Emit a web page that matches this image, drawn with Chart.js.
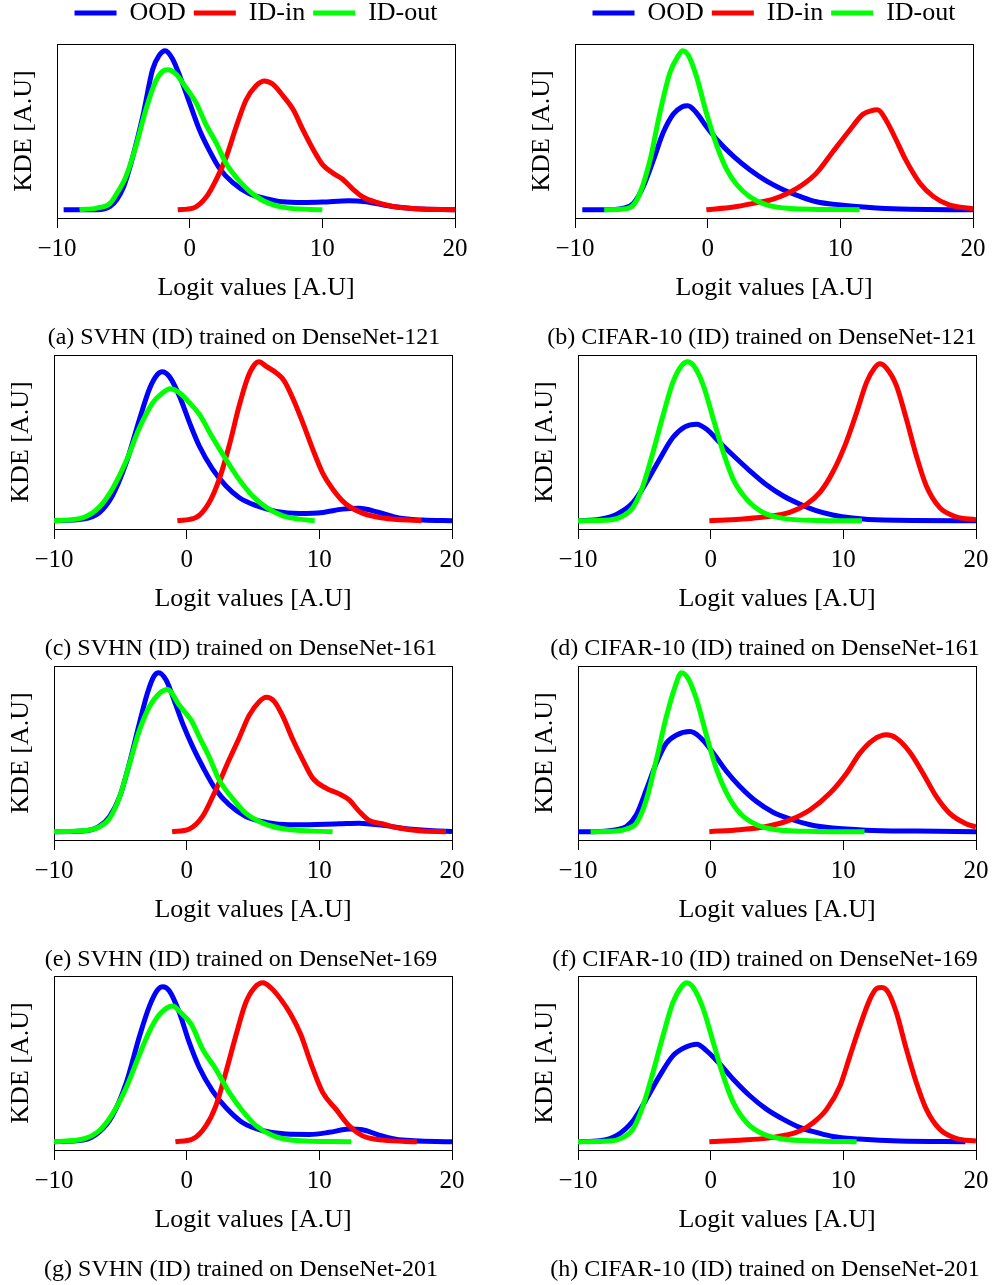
<!DOCTYPE html>
<html>
<head>
<meta charset="utf-8">
<title>Logit KDE</title>
<script src="https://cdn.jsdelivr.net/npm/chart.js@4.4.1/dist/chart.umd.min.js"></script>
<style>
  html, body { margin: 0; padding: 0; background: #fff; overflow: hidden; }
  body { position: relative; width: 994px; height: 1285px; }
  canvas { position: absolute; }
</style>
</head>
<body>
<script>
// legend / axes
const seriesNames = ["OOD", "ID-in", "ID-out"];
const xTicks = [-10, 0, 10, 20];
const captions = [
  "(a) SVHN (ID) trained on DenseNet-121",
  "(b) CIFAR-10 (ID) trained on DenseNet-121",
  "(c) SVHN (ID) trained on DenseNet-161",
  "(d) CIFAR-10 (ID) trained on DenseNet-161",
  "(e) SVHN (ID) trained on DenseNet-169",
  "(f) CIFAR-10 (ID) trained on DenseNet-169",
  "(g) SVHN (ID) trained on DenseNet-201",
  "(h) CIFAR-10 (ID) trained on DenseNet-201",
];

// (a) SVHN / DenseNet-121
const aOodX = [-9.5, -7, -6, -5, -4.3, -3.5, -2.8, -2.3, -1.85, -1.3, -0.65, 0, 0.75, 1.5, 2.25, 3.25, 4.5, 5.75, 7, 8.5, 10, 12, 13.3, 14.6, 15.8, 17, 20];
const aOodY = [0, 0, 0.02, 0.14, 0.33, 0.6, 0.88, 0.97, 1.0, 0.95, 0.82, 0.67, 0.5, 0.37, 0.26, 0.17, 0.1, 0.07, 0.05, 0.045, 0.048, 0.057, 0.05, 0.03, 0.015, 0.006, 0];
const aInX = [-0.9, 0.25, 1.25, 2.0, 2.75, 3.5, 4.25, 5.0, 5.65, 6.25, 7.0, 7.8, 8.55, 9.3, 10.05, 10.8, 11.55, 12.3, 13.05, 14.1, 15.35, 17.1, 20];
const aInY = [0, 0.01, 0.08, 0.19, 0.33, 0.52, 0.69, 0.78, 0.81, 0.79, 0.72, 0.63, 0.5, 0.38, 0.28, 0.23, 0.19, 0.13, 0.08, 0.046, 0.02, 0.006, 0];
const aOutX = [-8.3, -7, -6, -5.55, -4.8, -4.05, -3.3, -2.55, -2.05, -1.65, -1.0, -0.3, 0.5, 1.2, 2.0, 2.75, 3.75, 5.0, 6.3, 7.5, 10];
const aOutY = [0, 0.01, 0.04, 0.094, 0.21, 0.4, 0.63, 0.81, 0.87, 0.88, 0.85, 0.77, 0.67, 0.54, 0.42, 0.29, 0.18, 0.084, 0.03, 0.01, 0];

// (b) CIFAR-10 / DenseNet-121
const bOodX = [-9.45, -7.85, -6.35, -5.6, -4.85, -4.1, -3.35, -2.6, -1.95, -1.5, -0.85, -0.1, 0.7, 1.95, 3.2, 4.45, 5.7, 6.95, 8.2, 10, 12, 14.5, 20];
const bOodY = [0, 0, 0.01, 0.04, 0.146, 0.31, 0.485, 0.6, 0.646, 0.653, 0.61, 0.523, 0.44, 0.335, 0.25, 0.18, 0.126, 0.084, 0.05, 0.03, 0.015, 0.004, 0];
const bInX = [-0.1, 1.95, 3.45, 4.95, 6.2, 7.2, 8.2, 9.45, 10.7, 11.7, 12.3, 12.8, 13.5, 14.2, 14.95, 16, 17, 18.2, 20];
const bInY = [0, 0.017, 0.04, 0.067, 0.11, 0.16, 0.23, 0.366, 0.5, 0.6, 0.622, 0.628, 0.555, 0.44, 0.31, 0.167, 0.084, 0.03, 0.006];
const bOutX = [-7.8, -6.35, -5.6, -5.1, -4.35, -3.6, -2.85, -2.2, -1.88, -1.45, -0.85, -0.1, 0.7, 1.45, 2.2, 3.2, 4.45, 6.2, 11.45];
const bOutY = [0, 0.004, 0.03, 0.105, 0.31, 0.61, 0.86, 0.97, 1.0, 0.97, 0.84, 0.61, 0.4, 0.25, 0.157, 0.08, 0.03, 0.008, 0];

// (c) SVHN / DenseNet-161
const cOodX = [-10, -7.8, -6.6, -5.6, -4.55, -3.55, -2.8, -2.2, -1.85, -1.3, -0.55, 0.2, 0.95, 1.95, 2.95, 3.95, 5.25, 6.75, 8.5, 10.25, 11.75, 13, 14.5, 16, 17.8, 20];
const cOodY = [0, 0.01, 0.05, 0.157, 0.366, 0.64, 0.83, 0.92, 0.937, 0.906, 0.785, 0.62, 0.47, 0.325, 0.22, 0.146, 0.094, 0.059, 0.046, 0.052, 0.073, 0.078, 0.052, 0.017, 0.004, 0];
const cInX = [-0.7, 0.7, 1.7, 2.45, 3.2, 3.95, 4.6, 5.1, 5.45, 6.0, 6.75, 7.35, 8.0, 8.75, 9.5, 10.25, 11.0, 12.0, 13.25, 14.8, 17.7];
const cInY = [0, 0.02, 0.115, 0.26, 0.47, 0.72, 0.9, 0.98, 1.0, 0.97, 0.93, 0.88, 0.77, 0.617, 0.45, 0.3, 0.2, 0.105, 0.048, 0.017, 0];
const cOutX = [-10, -7.8, -6.6, -5.6, -4.55, -3.55, -2.55, -1.8, -1.25, -0.55, 0.2, 0.95, 1.95, 2.95, 3.95, 4.95, 6, 7.25, 8.5, 9.65];
const cOutY = [0, 0.02, 0.084, 0.2, 0.377, 0.586, 0.743, 0.805, 0.83, 0.805, 0.743, 0.67, 0.523, 0.387, 0.26, 0.157, 0.084, 0.031, 0.01, 0];

// (d) CIFAR-10 / DenseNet-161
const dOodX = [-10, -8.35, -7.1, -5.85, -4.85, -3.85, -2.85, -1.95, -1.05, -0.3, 0.7, 1.7, 2.95, 4.2, 5.45, 6.7, 7.95, 9.2, 10.7, 13, 20];
const dOodY = [0, 0.01, 0.04, 0.115, 0.24, 0.387, 0.523, 0.59, 0.607, 0.575, 0.49, 0.41, 0.314, 0.226, 0.157, 0.105, 0.063, 0.036, 0.017, 0.004, 0];
const dInX = [-0.1, 2.2, 4.2, 5.95, 7.25, 8.25, 9.2, 10.2, 11.0, 11.75, 12.35, 12.75, 13.25, 14.0, 14.75, 15.5, 16.25, 17.25, 18.5, 20];
const dInY = [0, 0.01, 0.025, 0.052, 0.105, 0.18, 0.305, 0.49, 0.68, 0.87, 0.96, 0.987, 0.96, 0.85, 0.64, 0.41, 0.22, 0.084, 0.025, 0.006];
const dOutX = [-10, -7.6, -6.6, -5.85, -5.1, -4.35, -3.6, -2.85, -2.2, -1.75, -1.3, -0.55, 0.2, 0.95, 1.7, 2.7, 3.95, 5.45, 7.95, 11.4];
const dOutY = [0, 0.004, 0.03, 0.084, 0.22, 0.43, 0.66, 0.87, 0.975, 1.0, 0.977, 0.85, 0.64, 0.43, 0.26, 0.136, 0.052, 0.015, 0.002, 0];

// (e) SVHN / DenseNet-169
const eOodX = [-10, -7.8, -6.6, -5.8, -5.05, -4.3, -3.55, -2.95, -2.45, -2.1, -1.55, -0.95, -0.3, 0.45, 1.2, 2.2, 3.2, 4.45, 6, 7.75, 9.75, 11.5, 13, 14.8, 16.55, 18.6, 20];
const eOodY = [0, 0.004, 0.033, 0.096, 0.22, 0.435, 0.686, 0.874, 0.98, 1.0, 0.954, 0.828, 0.68, 0.535, 0.41, 0.264, 0.17, 0.096, 0.059, 0.044, 0.046, 0.05, 0.054, 0.04, 0.019, 0.006, 0.002];
const eInX = [-1.1, 0.2, 1.2, 2.2, 3.2, 3.95, 4.7, 5.5, 6.0, 6.6, 7.25, 8.0, 8.75, 9.5, 10.5, 11.5, 12.25, 13.0, 13.75, 14.75, 16, 17.5, 19.55];
const eInY = [0, 0.017, 0.096, 0.264, 0.452, 0.588, 0.73, 0.82, 0.845, 0.82, 0.725, 0.58, 0.452, 0.337, 0.274, 0.238, 0.2, 0.128, 0.071, 0.05, 0.023, 0.006, 0];
const eOutX = [-10, -7.8, -6.6, -5.8, -5.05, -4.3, -3.55, -2.8, -2.05, -1.45, -0.55, -0.05, 0.35, 0.95, 1.7, 2.45, 3.45, 4.45, 5.75, 7.25, 11];
const eOutY = [0, 0.006, 0.03, 0.086, 0.22, 0.43, 0.64, 0.787, 0.87, 0.895, 0.795, 0.743, 0.7, 0.596, 0.47, 0.326, 0.21, 0.117, 0.054, 0.019, 0];

// (f) CIFAR-10 / DenseNet-169
const fOodX = [-10, -8.35, -7.1, -6.35, -5.6, -4.85, -4.1, -3.35, -2.6, -1.55, -0.8, 0.2, 1.2, 2.2, 3.45, 4.7, 6, 7.5, 9.2, 11.7, 15.5, 20];
const fOodY = [0, 0.002, 0.013, 0.033, 0.107, 0.264, 0.43, 0.556, 0.607, 0.63, 0.594, 0.494, 0.379, 0.285, 0.19, 0.123, 0.08, 0.044, 0.023, 0.01, 0.004, 0];
const fInX = [-0.1, 2.2, 4.2, 6, 7.5, 9, 10.25, 11.25, 12.25, 13.25, 14, 15, 16, 17, 18, 19.25, 20];
const fInY = [0, 0.013, 0.033, 0.075, 0.138, 0.243, 0.368, 0.494, 0.577, 0.609, 0.588, 0.502, 0.368, 0.222, 0.117, 0.05, 0.03];
const fOutX = [-9.05, -7.1, -6.35, -5.6, -4.85, -4.1, -3.35, -2.7, -2.2, -1.7, -1.05, -0.3, 0.45, 1.2, 2.2, 3.45, 4.95, 8, 11.6];
const fOutY = [0, 0.004, 0.017, 0.054, 0.2, 0.45, 0.72, 0.908, 1.0, 0.964, 0.828, 0.6, 0.39, 0.243, 0.117, 0.044, 0.013, 0.002, 0];

// (g) SVHN / DenseNet-201
const gOodX = [-10, -7.8, -6.6, -5.6, -4.55, -3.55, -2.8, -2.2, -1.8, -1.3, -0.55, 0.2, 0.95, 1.95, 2.95, 4.2, 5.75, 7.5, 9.25, 10.75, 12.25, 13.25, 14.5, 16, 20];
const gOodY = [0, 0.01, 0.06, 0.163, 0.372, 0.665, 0.854, 0.954, 0.975, 0.948, 0.812, 0.623, 0.467, 0.32, 0.215, 0.121, 0.069, 0.048, 0.046, 0.059, 0.08, 0.075, 0.042, 0.013, 0];
const gInX = [-0.85, 0.45, 1.45, 2.2, 2.95, 3.7, 4.45, 5.1, 5.75, 6.35, 7.1, 7.85, 8.6, 9.35, 10.25, 11.25, 12.25, 13.25, 14.8, 17.35];
const gInY = [0, 0.017, 0.1, 0.226, 0.435, 0.665, 0.874, 0.968, 1.0, 0.968, 0.895, 0.8, 0.674, 0.496, 0.31, 0.205, 0.1, 0.038, 0.01, 0];
const gOutX = [-10, -7.8, -6.6, -5.6, -4.55, -3.55, -2.8, -2.05, -1.05, -0.45, 0.35, 1.2, 2.2, 3.2, 4.2, 5.25, 6.5, 8, 12.4];
const gOutY = [0, 0.017, 0.069, 0.174, 0.341, 0.55, 0.695, 0.8, 0.854, 0.812, 0.738, 0.582, 0.456, 0.31, 0.195, 0.1, 0.038, 0.01, 0];

// (h) CIFAR-10 / DenseNet-201
const hOodX = [-10, -8.35, -7.1, -5.85, -4.85, -3.85, -2.85, -1.95, -1.05, -0.3, 0.7, 1.7, 2.95, 4.2, 5.45, 6.7, 7.95, 9.2, 11.2, 14.2, 19.2];
const hOodY = [0, 0.006, 0.038, 0.132, 0.268, 0.414, 0.54, 0.592, 0.613, 0.571, 0.487, 0.393, 0.289, 0.205, 0.142, 0.09, 0.059, 0.033, 0.017, 0.004, 0];
const hInX = [-0.1, 2.2, 4.2, 5.7, 6.75, 7.75, 8.75, 9.75, 10.5, 11.25, 12, 12.5, 12.9, 13.4, 14, 14.75, 15.5, 16.25, 17.25, 18.5, 20];
const hInY = [0, 0.01, 0.021, 0.042, 0.069, 0.121, 0.205, 0.351, 0.54, 0.728, 0.895, 0.962, 0.969, 0.937, 0.812, 0.582, 0.372, 0.205, 0.08, 0.021, 0.004];
const hOutX = [-10, -7.6, -6.6, -5.85, -5.1, -4.35, -3.6, -2.85, -2.2, -1.8, -1.3, -0.55, 0.2, 0.95, 1.7, 2.7, 3.95, 5.45, 7.95, 11];
const hOutY = [0, 0.004, 0.027, 0.08, 0.226, 0.435, 0.665, 0.874, 0.975, 1.0, 0.968, 0.833, 0.623, 0.414, 0.247, 0.121, 0.048, 0.017, 0.004, 0];

const FONT = "'Liberation Serif', 'Times New Roman', serif";
const colors = ["#0000ff", "#ff0000", "#00ff00"];
const drawOrder = [3, 2, 1]; // ID-out on top

// plot box of each panel on the page (left, right, top, bottom) and caption centre
const panels = [
  { series: [[aOodX, aOodY], [aInX, aInY], [aOutX, aOutY]], box: [57, 455, 44, 218], capX: 244, legend: true },
  { series: [[bOodX, bOodY], [bInX, bInY], [bOutX, bOutY]], box: [575, 973, 44, 218], capX: 762, legend: true },
  { series: [[cOodX, cOodY], [cInX, cInY], [cOutX, cOutY]], box: [54, 452, 355, 529], capX: 241 },
  { series: [[dOodX, dOodY], [dInX, dInY], [dOutX, dOutY]], box: [578, 976, 355, 529], capX: 765 },
  { series: [[eOodX, eOodY], [eInX, eInY], [eOutX, eOutY]], box: [54, 452, 666, 840], capX: 241 },
  { series: [[fOodX, fOodY], [fInX, fInY], [fOutX, fOutY]], box: [578, 976, 666, 840], capX: 765 },
  { series: [[gOodX, gOodY], [gInX, gInY], [gOutX, gOutY]], box: [54, 452, 976, 1150], capX: 241 },
  { series: [[hOodX, hOodY], [hInX, hInY], [hOutX, hOutY]], box: [578, 976, 976, 1150], capX: 765 },
];

const Y_AXIS_W = 48;
const X_AXIS_H = 83;
const CAP_PAD = 25;
const CAP_SIZE = 24;
const GAP_TOP = 8;
const LEGEND_H = 44;

const fmtTick = (v) => (v < 0 ? "\u2212" + Math.abs(v) : String(v));

const renderPanel = (p, idx) => {
  const [left, right, top, bottom] = p.box;
  const topSpace = (p.legend ? LEGEND_H : 0) + GAP_TOP;
  const cLeft = left - Y_AXIS_W;
  const cRight = 2 * p.capX - cLeft;
  const rightW = cRight - right;

  const canvas = document.createElement("canvas");
  canvas.width = cRight - cLeft;
  canvas.height = topSpace + (bottom - top) + X_AXIS_H + CAP_PAD + CAP_SIZE;
  canvas.style.left = cLeft + "px";
  canvas.style.top = top - topSpace + "px";
  document.body.appendChild(canvas);

  const datasets = p.series.map(([xs, ys], i) => ({
    label: seriesNames[i],
    data: xs.map((x, j) => ({ x: x, y: ys[j] })),
    borderColor: colors[i],
    backgroundColor: colors[i],
    borderWidth: 5,
    pointRadius: 0,
    pointBorderWidth: 5,
    pointBorderColor: colors[i],
    cubicInterpolationMode: "monotone",
    fill: false,
    order: drawOrder[i],
  }));

  const edge = { display: true, color: "#000", width: 1 };

  new Chart(canvas.getContext("2d"), {
    type: "line",
    data: { datasets },
    options: {
      responsive: false,
      animation: false,
      events: [],
      devicePixelRatio: 1,
      layout: { padding: 0 },
      scales: {
        x: {
          type: "linear",
          min: -10,
          max: 20,
          afterBuildTicks: (s) => { s.ticks = xTicks.map((v) => ({ value: v })); },
          ticks: {
            callback: fmtTick,
            color: "#000",
            padding: 9,
            maxRotation: 0,
            autoSkip: false,
            font: { family: FONT, size: 25, lineHeight: 1 },
          },
          grid: { display: true, drawOnChartArea: false, drawTicks: true, tickLength: 10, color: "#000", lineWidth: 1 },
          border: edge,
          title: {
            display: true,
            text: "Logit values [A.U]",
            color: "#000",
            padding: 0,
            font: { family: FONT, size: 26, lineHeight: 1 },
          },
          afterFit: (s) => { s.height = X_AXIS_H; },
        },
        y: {
          min: -0.052,
          max: 1.042,
          ticks: { display: false },
          grid: { display: false },
          border: edge,
          title: {
            display: true,
            text: "KDE [A.U]",
            color: "#000",
            padding: { top: 2, bottom: 0 },
            font: { family: FONT, size: 26, lineHeight: 1 },
          },
          afterFit: (s) => { s.width = Y_AXIS_W; },
        },
        x2: {
          type: "linear",
          position: "top",
          min: -10,
          max: 20,
          ticks: { display: false },
          grid: { display: false },
          border: edge,
          afterFit: (s) => { s.height = GAP_TOP; },
        },
        y2: {
          position: "right",
          min: 0,
          max: 1,
          ticks: { display: false },
          grid: { display: false },
          border: edge,
          afterFit: (s) => { s.width = rightW; },
        },
      },
      plugins: {
        tooltip: { enabled: false },
        legend: {
          display: !!p.legend,
          position: "top",
          fullSize: false,
          align: "center",
          labels: {
            usePointStyle: true,
            pointStyle: "line",
            pointStyleWidth: 42,
            padding: 8,
            color: "#000",
            font: { family: FONT, size: 26 },
            sort: (a, b) => a.datasetIndex - b.datasetIndex,
          },
        },
        title: {
          display: true,
          position: "bottom",
          text: captions[idx],
          color: "#000",
          padding: { top: CAP_PAD, bottom: 0 },
          font: { family: FONT, size: CAP_SIZE, weight: "normal", lineHeight: 1 },
        },
      },
    },
  });
};

panels.forEach(renderPanel);
</script>
</body>
</html>
